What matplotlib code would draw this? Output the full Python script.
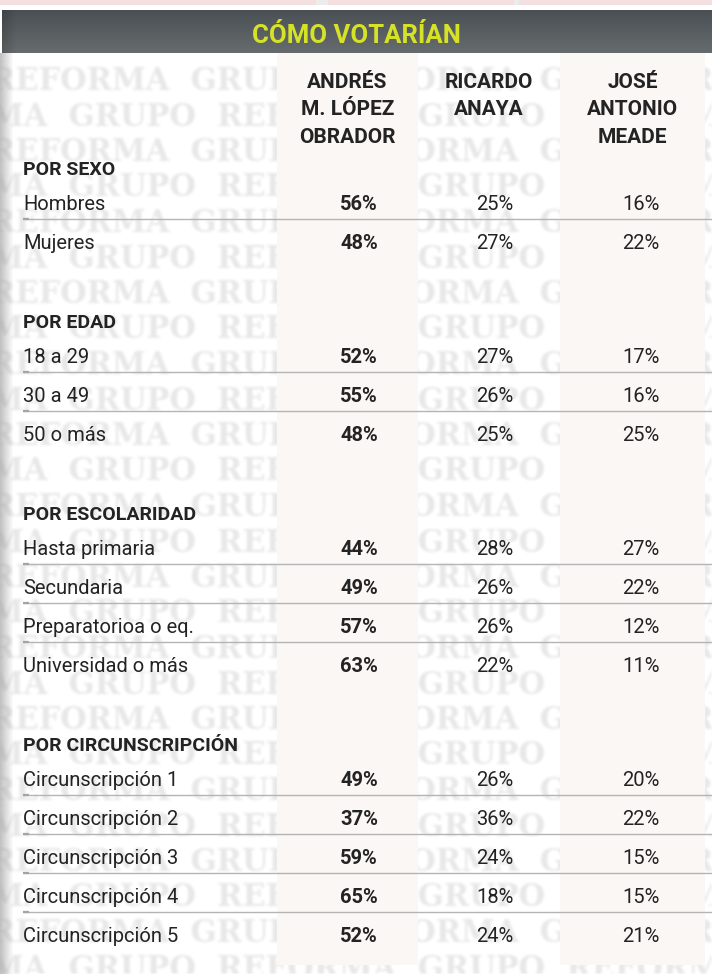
import numpy as np
import matplotlib
matplotlib.use("Agg")
import matplotlib.pyplot as plt
from matplotlib.patches import Rectangle

# ---------------- data ----------------
title = "CÓMO VOTARÍAN"
candidates = ["ANDRÉS\nM. LÓPEZ\nOBRADOR", "RICARDO\nANAYA", "JOSÉ\nANTONIO\nMEADE"]
groups = ["POR SEXO", "POR EDAD", "POR ESCOLARIDAD", "POR CIRCUNSCRIPCIÓN"]
sexo_labels = ["Hombres", "Mujeres"]
edad_labels = ["18 a 29", "30 a 49", "50 o más"]
escolaridad_labels = ["Hasta primaria", "Secundaria", "Preparatorioa o eq.", "Universidad o más"]
circ_labels = ["Circunscripción 1", "Circunscripción 2", "Circunscripción 3",
               "Circunscripción 4", "Circunscripción 5"]
amlo = [56, 48, 52, 55, 48, 44, 49, 57, 63, 49, 37, 59, 65, 52]
anaya = [25, 27, 27, 26, 25, 28, 26, 26, 22, 26, 36, 24, 18, 24]
meade = [16, 22, 17, 16, 25, 27, 22, 12, 11, 20, 22, 15, 15, 21]
group_rows = [sexo_labels, edad_labels, escolaridad_labels, circ_labels]
watermark = "REFORMA  GRUPO  REFORMA  GRUPO  REFORMA  GRUPO"

W, H = 712, 974
FONT = ["Roboto", "DejaVu Sans"]
TXT = "#232323"

# ---------------- blurred watermark layer (rendered off-screen) ----------------
wfig = plt.figure(figsize=(W / 100, H / 100), dpi=100)
wax = wfig.add_axes([0, 0, 1, 1])
wax.set_xlim(0, W)
wax.set_ylim(H, 0)
wax.axis("off")
k = 0
y = 78
while y < H + 20:
    xs = -10 if k % 2 == 0 else -132
    wax.text(xs, y + 12, watermark, ha="left", va="baseline", fontsize=22,
             fontweight="bold", color="black", family=["DejaVu Serif"])
    y += 35.5
    k += 1
wfig.canvas.draw()
buf = np.asarray(wfig.canvas.buffer_rgba())[..., 0].astype(float) / 255.0
plt.close(wfig)
mask = 1.0 - buf


def box_blur(a, r):
    ker = np.ones(2 * r + 1) / (2 * r + 1)
    a = np.apply_along_axis(lambda m: np.convolve(m, ker, mode="same"), 0, a)
    a = np.apply_along_axis(lambda m: np.convolve(m, ker, mode="same"), 1, a)
    return a


mask = box_blur(box_blur(mask, 1), 1)
layer = np.zeros((H, W, 4))
layer[..., :3] = 0.55
layer[..., 3] = np.clip(mask, 0, 1) * 0.2

# ---------------- main figure ----------------
fig = plt.figure(figsize=(W / 100, H / 100), dpi=100)
ax = fig.add_axes([0, 0, 1, 1])
ax.set_xlim(0, W)
ax.set_ylim(H, 0)
ax.axis("off")
fig.patch.set_facecolor("white")

ax.imshow(layer, extent=(0, W, H, 0), origin="upper", aspect="auto", zorder=1.5,
          interpolation="bilinear")

# top pink strip
ax.add_patch(Rectangle((0, 0), W, 5, facecolor="#f3dfdf", edgecolor="none", zorder=1.6))
for x0, w in [(316, 12), (514, 5)]:
    ax.add_patch(Rectangle((x0, 0), w, 5, facecolor="#ececec", edgecolor="none", zorder=1.7))
ax.add_patch(Rectangle((0, 5), W, 48, facecolor="white", edgecolor="none", zorder=1.65))

# header bar gradient
bh, bw = 43, 710
top = np.array([0x4a, 0x50, 0x54]) / 255
bot = np.array([0x66, 0x6b, 0x6e]) / 255
t = np.linspace(0, 1, bh)[:, None, None]
grad = top * (1 - t) + bot * t
grad = np.repeat(grad, bw, axis=1)
xf = np.clip(np.arange(bw) / 14.0, 0, 1)
grad = grad * (0.85 + 0.15 * xf)[None, :, None]
ax.imshow(grad, extent=(2, 712, 53, 10), origin="upper", aspect="auto", zorder=2,
          interpolation="bilinear")
ax.text(356, 43, title, ha="center", va="baseline", fontsize=18.5, fontweight="bold",
        color="#d6e225", family=FONT, zorder=5)

# left scan shadow
sh = np.ones((10, 14, 4))
sh[..., :3] = 0.6
sh[..., 3] = np.linspace(0.6, 0.0, 14)[None, :]
ax.imshow(sh, extent=(0, 14, H, 53), origin="upper", aspect="auto", zorder=1.8,
          interpolation="bilinear")

# beige columns
col_edges = [(277, 418), (418, 560), (560, 705)]
for i, (x0, x1) in enumerate(col_edges):
    if i != 1:
        ax.add_patch(Rectangle((x0, 53), x1 - x0, 965 - 53, facecolor="#faf7f4",
                               edgecolor="none", zorder=2))

col_centers = [(a + b) / 2 for a, b in col_edges]
num_x = [359, 495, 641]

# column headers
for cx, name in zip(col_centers, candidates):
    for j, line in enumerate(name.split("\n")):
        ax.text(cx, 88 + 27.3 * j, line, ha="center", va="baseline", fontsize=15,
                fontweight="bold", color=TXT, family=FONT, zorder=5)

# rows
LX = 23
base = 175.0
idx = 0
for g, rows in zip(groups, group_rows):
    ax.text(LX, base, g, ha="left", va="baseline", fontsize=14, fontweight="bold",
            color=TXT, family=FONT, zorder=5)
    yb = base + 35
    for r, lab in enumerate(rows):
        ax.text(LX, yb, lab, ha="left", va="baseline", fontsize=14.5, color=TXT,
                family=FONT, zorder=5)
        vals = [amlo[idx], anaya[idx], meade[idx]]
        for c, v in enumerate(vals):
            ax.text(num_x[c], yb, f"{v}%", ha="center", va="baseline", fontsize=14.5,
                    fontweight="bold" if c == 0 else "normal", color=TXT,
                    family=FONT, zorder=5)
        if r < len(rows) - 1:
            ys = yb + 8.5
            ax.plot([LX, W], [ys, ys], color="#b4b4b4", lw=1.0, zorder=4,
                    solid_capstyle="butt")
            ax.plot([LX, LX + 6], [ys, ys], color="#a4a4a4", lw=1.6, zorder=4,
                    solid_capstyle="butt")
        idx += 1
        last = yb
        yb += 39
    base = last + 79

fig.savefig("out.png", dpi=100, facecolor="white")
